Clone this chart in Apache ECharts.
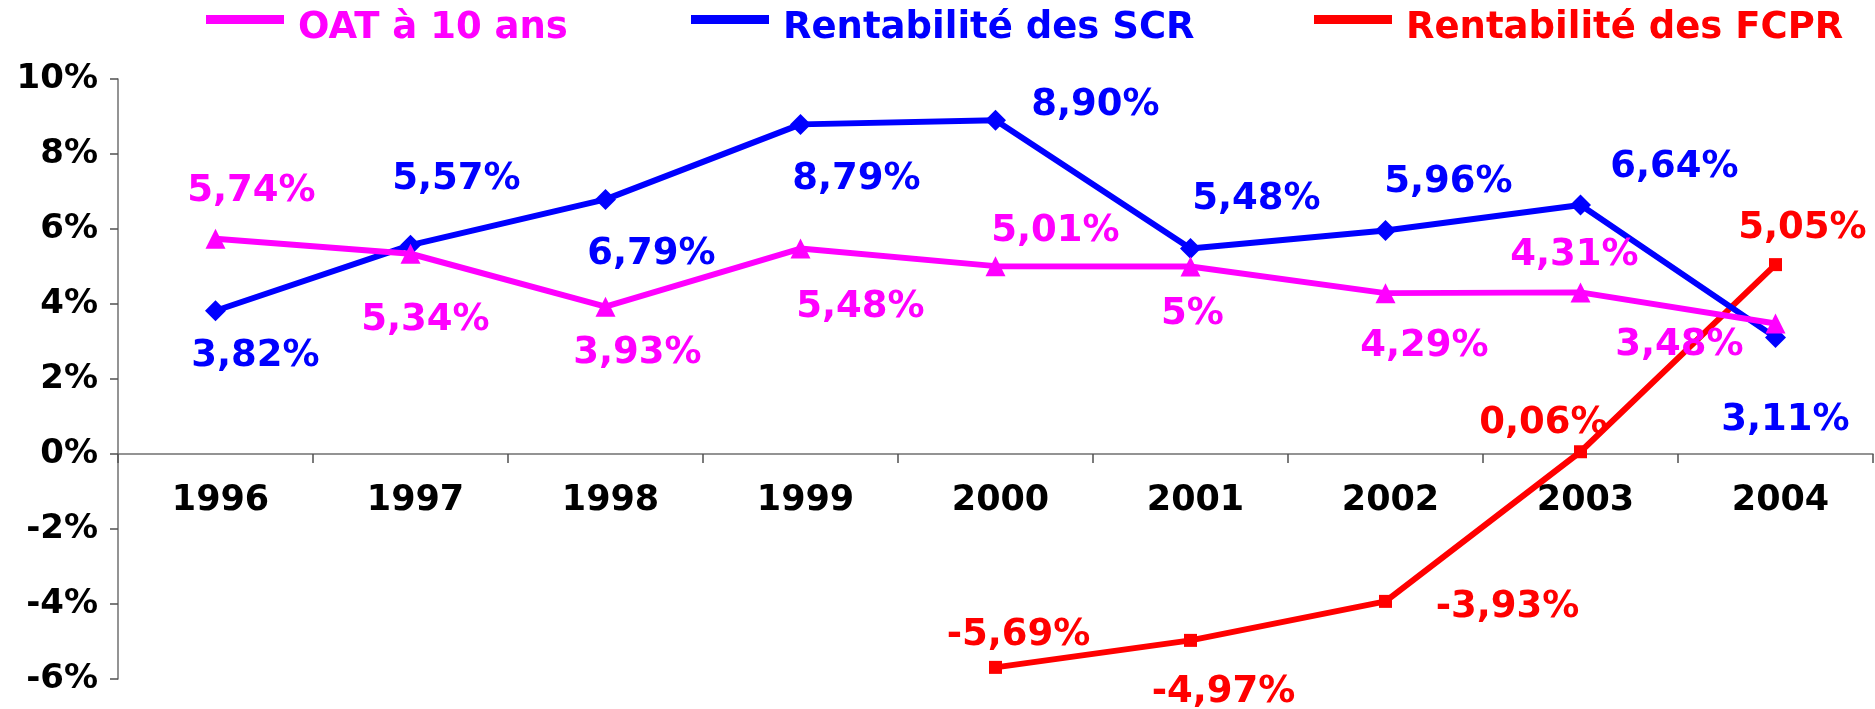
<!DOCTYPE html>
<html>
<head>
<meta charset="utf-8">
<script src="https://cdn.jsdelivr.net/npm/echarts@6/dist/echarts.min.js"></script>
<style>
html,body{margin:0;padding:0;background:#fff;}
#c{width:1875px;height:709px;}
</style>
</head>
<body>
<div id="c"></div>
<script>
// ---- data ----
const categories = ['1996','1997','1998','1999','2000','2001','2002','2003','2004'];
const oatValues  = [5.74, 5.34, 3.93, 5.48, 5.01, 5.00, 4.29, 4.31, 3.48];
const scrValues  = [3.82, 5.57, 6.79, 8.79, 8.90, 5.48, 5.96, 6.64, 3.11];
const fcprValues = [null, null, null, null, -5.69, -4.97, -3.93, 0.06, 5.05];
const seriesNames = ['OAT à 10 ans', 'Rentabilité des SCR', 'Rentabilité des FCPR'];

// ---- label placement (layout only) ----
const oatLabelOffsets  = [[36,-47],[15,67],[32,47],[60,59],[60,-35],[2,48],[39,53],[-6,-37],[-96,22]];
const scrLabelOffsets  = [[40,46],[46,-66],[46,55],[56,55],[100,-15],[66,-49],[63,-48],[94,-38],[10,83]];
const fcprLabelOffsets = [null,null,null,null,[23,-32],[33,52],[122,6],[-37,-28],[27,-36]];

const FONT = 'DejaVu Sans';
const colors = ['#FF00FF', '#0000FF', '#FF0000'];
const symbols = ['triangle', 'diamond', 'rect'];
const symbolSizes = [20, 21, 13];

function fmt(v) {
  return (Number.isInteger(v) ? String(v) : v.toFixed(2).replace('.', ',')) + '%';
}

function buildData(values, offsets) {
  return values.map((v, i) => v === null ? null : ({
    value: v,
    label: { offset: offsets[i] }
  }));
}

const allValues = [oatValues, scrValues, fcprValues];
const allOffsets = [oatLabelOffsets, scrLabelOffsets, fcprLabelOffsets];

const series = seriesNames.map((name, k) => ({
  name: name,
  type: 'line',
  data: buildData(allValues[k], allOffsets[k]),
  symbol: symbols[k],
  symbolSize: symbolSizes[k],
  showAllSymbol: true,
  connectNulls: false,
  z: 3 - k,
  lineStyle: { color: colors[k], width: 6 },
  itemStyle: { color: colors[k] },
  label: {
    show: true,
    position: 'inside',
    align: 'center',
    verticalAlign: 'middle',
    color: colors[k],
    fontFamily: FONT,
    fontWeight: 'bold',
    fontSize: 37,
    formatter: p => fmt(p.value)
  },
  emphasis: { disabled: true }
}));

const legendLefts = [206, 691, 1314];
const legends = seriesNames.map((name, k) => ({
  data: [name],
  left: legendLefts[k],
  top: -8,
  padding: 0,
  icon: 'rect',
  itemWidth: 78,
  itemHeight: 9,
  selectedMode: false,
  formatter: n => '{t|' + n + '}',
  textStyle: {
    color: colors[k],
    fontFamily: FONT,
    fontWeight: 'bold',
    fontSize: 37,
    rich: {
      t: {
        color: colors[k],
        fontFamily: FONT,
        fontWeight: 'bold',
        fontSize: 37,
        lineHeight: 37,
        padding: [18, 0, 0, 9]
      }
    }
  }
}));

const chart = echarts.init(document.getElementById('c'), null, { renderer: 'canvas' });
chart.setOption({
  animation: false,
  backgroundColor: '#ffffff',
  legend: legends,
  grid: { left: 118, right: 2, top: 79, bottom: 30, containLabel: false, outerBoundsMode: 'none' },
  xAxis: {
    type: 'category',
    data: categories,
    boundaryGap: true,
    axisLine: { onZero: true, lineStyle: { color: '#707070', width: 1.5 } },
    axisTick: { show: true, length: 9, inside: false, lineStyle: { color: '#505050', width: 1.5 } },
    axisLabel: {
      color: '#000',
      fontFamily: FONT,
      fontWeight: 'bold',
      fontSize: 35,
      margin: -196,
      padding: [0, 0, 0, 10]
    },
    splitLine: { show: false }
  },
  yAxis: {
    type: 'value',
    min: -6,
    max: 10,
    interval: 2,
    axisLine: { show: true, lineStyle: { color: '#707070', width: 1.5 } },
    axisTick: { show: true, length: 8, inside: false, lineStyle: { color: '#505050', width: 1.5 } },
    axisLabel: {
      color: '#000',
      fontFamily: FONT,
      fontWeight: 'bold',
      fontSize: 34,
      margin: 20,
      formatter: '{value}%'
    },
    splitLine: { show: false }
  },
  series: series
});
</script>
</body>
</html>
